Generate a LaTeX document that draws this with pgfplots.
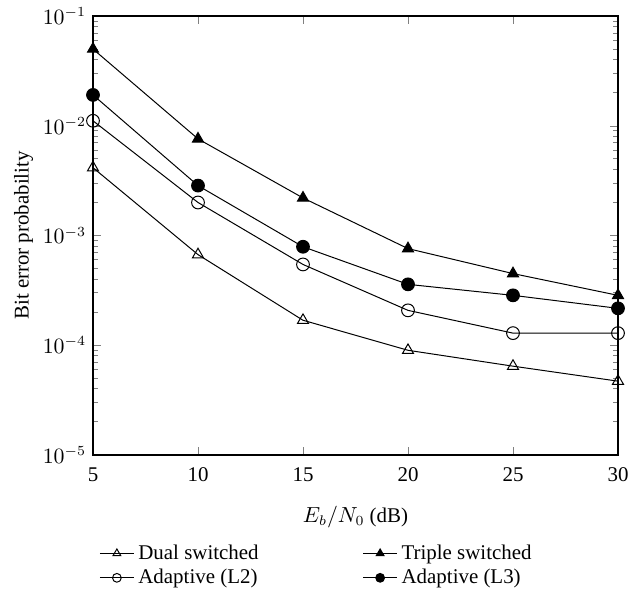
\documentclass[border=0pt]{standalone}
\usepackage{pgfplots}
\pgfplotsset{compat=1.18}
\usepackage{fontspec}
\setmainfont{Liberation Serif}
\begin{document}
\begin{tikzpicture}
\begin{axis}[
  scale only axis,
  width=262.5bp, height=219.5bp,
  xmin=5, xmax=30, ymin=1e-5, ymax=1e-1,
  ymode=log,
  xtick={5,10,15,20,25,30},
  ytick={1e-5,1e-4,1e-3,1e-2,1e-1},
  minor ytick={2e-5,3e-5,4e-5,5e-5,6e-5,7e-5,8e-5,9e-5,
    2e-4,3e-4,4e-4,5e-4,6e-4,7e-4,8e-4,9e-4,
    2e-3,3e-3,4e-3,5e-3,6e-3,7e-3,8e-3,9e-3,
    2e-2,3e-2,4e-2,5e-2,6e-2,7e-2,8e-2,9e-2},
  tick align=inside,
  major tick length=4bp, minor tick length=2.5bp,
  minor tick style={line width=0.5pt},
  xticklabel style={/pgf/number format/assume math mode=true, yshift=-3bp},
  tick label style={font=\fontsize{10.5}{12}\selectfont},
  label style={font=\fontsize{10.5}{12}\selectfont},
  xlabel={$E_b/N_0$ (dB)},
  xlabel style={yshift=-5bp},
  ylabel={Bit error probability},
  ylabel style={yshift=-2bp},
  every axis plot/.append style={black, line width=0.5pt, mark size=3.2pt},
  legend columns=2,
  legend cell align=left,
  legend image post style={mark size=2.2pt},
  legend style={draw=none, at={(0.0,-0.185)}, anchor=north west,
    font=\fontsize{10.5}{12}\selectfont, row sep=-0.5bp,
    /tikz/every even column/.append style={column sep=50bp}},
  axis line style={line width=0.6pt},
]
\addplot[mark=triangle, mark options={solid}] coordinates {(5,0.00415) (10,0.00067) (15,0.000169) (20,0.00009) (25,0.0000645) (30,0.0000471)};
\addlegendentry{Dual switched}
\addplot[mark=triangle*] coordinates {(5,0.050) (10,0.0076) (15,0.0022) (20,0.00076) (25,0.00045) (30,0.000285)};
\addlegendentry{Triple switched}
\addplot[mark=o] coordinates {(5,0.0111) (10,0.0020) (15,0.000545) (20,0.000208) (25,0.000129) (30,0.000129)};
\addlegendentry{Adaptive (L2)}
\addplot[mark=*] coordinates {(5,0.0191) (10,0.00285) (15,0.00079) (20,0.000359) (25,0.000285) (30,0.000217)};
\addlegendentry{Adaptive (L3)}
\end{axis}
\path (current axis.south west) ++(-46.5bp,-67.5bp) rectangle ++(319.5bp,295bp);
\end{tikzpicture}
\end{document}
